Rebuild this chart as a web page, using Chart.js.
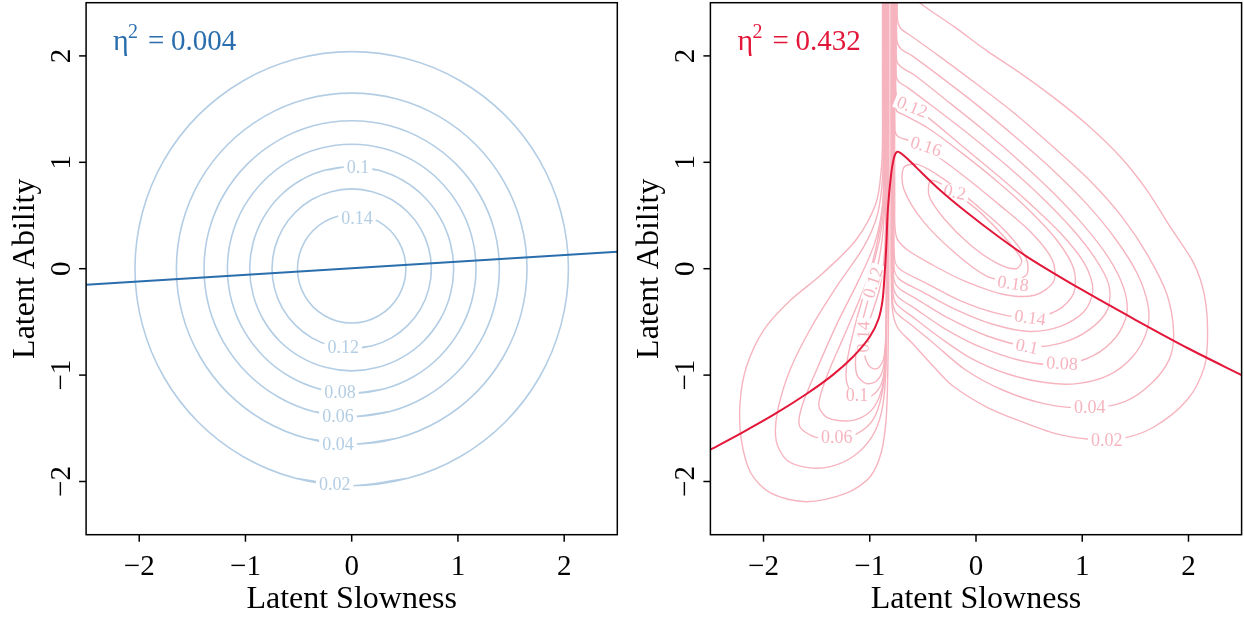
<!DOCTYPE html>
<html>
<head>
<meta charset="utf-8">
<script src="https://cdn.jsdelivr.net/npm/chart.js@4.4.0/dist/chart.umd.min.js"></script>
<style>
  html, body { margin: 0; padding: 0; background: #fff; }
  #wrap { position: relative; width: 1244px; height: 617px; }
  canvas { position: absolute; top: 0; }
</style>
</head>
<body>
<div id="wrap">
  <canvas id="leftPlot" width="622" height="617" style="left:0"></canvas>
  <canvas id="rightPlot" width="622" height="617" style="left:622px"></canvas>
</div>
<script>
  // axis ticks
  const xTicks = [-2, -1, 0, 1, 2];
  const yTicks = [-2, -1, 0, 1, 2];

  // left panel: contour rings (every 15 degrees, one step of overlap at the label)
  const ring14 = [[-0.132,0.493],[0,0.51],[0.132,0.493],[0.255,0.442],[0.361,0.361],[0.442,0.255],[0.493,0.132],[0.51,0],[0.493,-0.132],[0.442,-0.255],[0.361,-0.361],[0.255,-0.442],[0.132,-0.493],[0,-0.51],[-0.132,-0.493],[-0.255,-0.442],[-0.361,-0.361],[-0.442,-0.255],[-0.493,-0.132],[-0.51,0],[-0.493,0.132],[-0.442,0.255],[-0.361,0.361],[-0.255,0.442],[-0.132,0.493],[0,0.51],[0.132,0.493]];
  const ring12 = [[-0.194,-0.724],[0,-0.75],[0.194,-0.724],[0.375,-0.65],[0.53,-0.53],[0.65,-0.375],[0.724,-0.194],[0.75,0],[0.724,0.194],[0.65,0.375],[0.53,0.53],[0.375,0.65],[0.194,0.724],[0,0.75],[-0.194,0.724],[-0.375,0.65],[-0.53,0.53],[-0.65,0.375],[-0.724,0.194],[-0.75,0],[-0.724,-0.194],[-0.65,-0.375],[-0.53,-0.53],[-0.375,-0.65],[-0.194,-0.724],[0,-0.75],[0.194,-0.724]];
  const ring10 = [[-0.248,0.927],[0,0.96],[0.248,0.927],[0.48,0.831],[0.679,0.679],[0.831,0.48],[0.927,0.248],[0.96,0],[0.927,-0.248],[0.831,-0.48],[0.679,-0.679],[0.48,-0.831],[0.248,-0.927],[0,-0.96],[-0.248,-0.927],[-0.48,-0.831],[-0.679,-0.679],[-0.831,-0.48],[-0.927,-0.248],[-0.96,0],[-0.927,0.248],[-0.831,0.48],[-0.679,0.679],[-0.48,0.831],[-0.248,0.927],[0,0.96],[0.248,0.927]];
  const ring08 = [[-0.303,-1.13],[0,-1.17],[0.303,-1.13],[0.585,-1.013],[0.827,-0.827],[1.013,-0.585],[1.13,-0.303],[1.17,0],[1.13,0.303],[1.013,0.585],[0.827,0.827],[0.585,1.013],[0.303,1.13],[0,1.17],[-0.303,1.13],[-0.585,1.013],[-0.827,0.827],[-1.013,0.585],[-1.13,0.303],[-1.17,0],[-1.13,-0.303],[-1.013,-0.585],[-0.827,-0.827],[-0.585,-1.013],[-0.303,-1.13],[0,-1.17],[0.303,-1.13]];
  const ring06 = [[-0.36,-1.343],[0,-1.39],[0.36,-1.343],[0.695,-1.204],[0.983,-0.983],[1.204,-0.695],[1.343,-0.36],[1.39,0],[1.343,0.36],[1.204,0.695],[0.983,0.983],[0.695,1.204],[0.36,1.343],[0,1.39],[-0.36,1.343],[-0.695,1.204],[-0.983,0.983],[-1.204,0.695],[-1.343,0.36],[-1.39,0],[-1.343,-0.36],[-1.204,-0.695],[-0.983,-0.983],[-0.695,-1.204],[-0.36,-1.343],[0,-1.39],[0.36,-1.343]];
  const ring04 = [[-0.427,-1.594],[0,-1.65],[0.427,-1.594],[0.825,-1.429],[1.167,-1.167],[1.429,-0.825],[1.594,-0.427],[1.65,0],[1.594,0.427],[1.429,0.825],[1.167,1.167],[0.825,1.429],[0.427,1.594],[0,1.65],[-0.427,1.594],[-0.825,1.429],[-1.167,1.167],[-1.429,0.825],[-1.594,0.427],[-1.65,0],[-1.594,-0.427],[-1.429,-0.825],[-1.167,-1.167],[-0.825,-1.429],[-0.427,-1.594],[0,-1.65],[0.427,-1.594]];
  const ring02 = [[-0.528,-1.97],[0,-2.04],[0.528,-1.97],[1.02,-1.767],[1.443,-1.443],[1.767,-1.02],[1.97,-0.528],[2.04,0],[1.97,0.528],[1.767,1.02],[1.443,1.443],[1.02,1.767],[0.528,1.97],[0,2.04],[-0.528,1.97],[-1.02,1.767],[-1.443,1.443],[-1.767,1.02],[-1.97,0.528],[-2.04,0],[-1.97,-0.528],[-1.767,-1.02],[-1.443,-1.443],[-1.02,-1.767],[-0.528,-1.97],[0,-2.04],[0.528,-1.97]];
  const blueFit = [[-2.5,-0.15],[2.5,0.16]];
  const blueLabels = [['0.1',0.06,0.95,0],['0.14',0.05,0.47,0],['0.12',-0.08,-0.74,0],['0.08',-0.11,-1.16,0],['0.06',-0.13,-1.39,0],['0.04',-0.13,-1.65,0],['0.02',-0.16,-2.03,0]];

  // right panel: left lobe contours (tail along the ridge, then round the lower-left lobe)
  const lobeA02 = [[-0.88,2.6],[-0.88,1.6],[-0.88,1.2],[-0.89,0.95],[-0.94,0.62],[-1.13,0.27],[-1.45,-0.05],[-1.75,-0.3],[-2.0,-0.58],[-2.16,-0.92],[-2.22,-1.25],[-2.21,-1.6],[-2.12,-1.92],[-1.93,-2.11],[-1.6,-2.19],[-1.22,-2.11],[-1.0,-1.96],[-0.89,-1.72],[-0.845,-1.4],[-0.83,-0.95],[-0.822,-0.3],[-0.82,0.5],[-0.82,2.6]];
  const lobeA04 = [[-0.875,2.6],[-0.875,1.3],[-0.88,0.85],[-0.93,0.5],[-1.06,0.2],[-1.3,-0.15],[-1.55,-0.55],[-1.75,-0.95],[-1.87,-1.35],[-1.88,-1.62],[-1.78,-1.8],[-1.58,-1.87],[-1.37,-1.86],[-1.15,-1.76],[-0.98,-1.58],[-0.89,-1.35],[-0.85,-1.0],[-0.838,-0.3],[-0.825,0.5],[-0.825,2.6]];
  const lobeA06 = [[-0.87,2.6],[-0.87,1.0],[-0.88,0.6],[-0.95,0.25],[-1.1,-0.1],[-1.3,-0.5],[-1.5,-0.95],[-1.64,-1.3],[-1.66,-1.48],[-1.52,-1.58],[-1.31,-1.6],[-1.12,-1.55],[-0.97,-1.42],[-0.89,-1.2],[-0.852,-0.9],[-0.84,-0.2],[-0.83,0.5],[-0.83,2.6]];
  const lobeA08 = [[-0.865,2.6],[-0.865,0.8],[-0.88,0.45],[-0.95,0.1],[-1.08,-0.25],[-1.25,-0.65],[-1.4,-1.0],[-1.48,-1.28],[-1.4,-1.4],[-1.19,-1.43],[-1.03,-1.37],[-0.93,-1.25],[-0.87,-1.05],[-0.85,-0.7],[-0.842,0],[-0.835,2.6]];
  const lobeA10 = [[-0.86,2.6],[-0.86,1.0],[-0.88,0.55],[-0.94,0.2],[-1.03,-0.15],[-1.13,-0.5],[-1.21,-0.85],[-1.22,-1.05],[-1.16,-1.18],[-1.05,-1.21],[-0.95,-1.17],[-0.88,-1.05],[-0.85,-0.8],[-0.843,-0.3],[-0.838,2.6]];
  const lobeA12 = [[-0.855,2.6],[-0.855,0.8],[-0.875,0.35],[-0.93,0.0],[-0.99,-0.2],[-1.07,-0.5],[-1.13,-0.8],[-1.12,-1.0],[-1.03,-1.08],[-0.93,-1.05],[-0.87,-0.92],[-0.846,-0.6],[-0.84,-0.2],[-0.84,2.6]];
  const lobeA14 = [[-0.85,2.6],[-0.85,0.5],[-0.865,0.1],[-0.91,-0.2],[-0.99,-0.45],[-1.05,-0.62],[-1.05,-0.8],[-1.0,-0.92],[-0.93,-0.94],[-0.87,-0.85],[-0.848,-0.6],[-0.843,-0.2],[-0.842,2.6]];

  // right panel: right lobe contours (down the ridge, round the big lobe, back up the ridge)
  const lobeB02 = [[-0.80,2.6],[-0.80,0.5],[-0.79,-0.35],[-0.74,-0.55],[-0.6,-0.7],[-0.4,-0.92],[-0.22,-1.1],[0.1,-1.3],[0.41,-1.43],[0.75,-1.55],[1.05,-1.6],[1.35,-1.6],[1.67,-1.49],[1.99,-1.23],[2.15,-0.92],[2.18,-0.6],[2.15,-0.25],[2.05,0.05],[1.83,0.39],[1.6,0.75],[1.36,1.05],[1.05,1.35],[0.73,1.61],[0.4,1.85],[0.1,2.05],[-0.2,2.27],[-0.53,2.5],[-0.62,2.6]];
  const lobeB04 = [[-0.795,2.6],[-0.795,0.5],[-0.79,-0.25],[-0.76,-0.4],[-0.62,-0.52],[-0.4,-0.7],[-0.1,-0.95],[0.25,-1.14],[0.65,-1.27],[1.07,-1.31],[1.4,-1.25],[1.65,-1.08],[1.82,-0.85],[1.86,-0.6],[1.8,-0.25],[1.62,0.12],[1.38,0.48],[1.08,0.82],[0.72,1.15],[0.35,1.47],[0,1.74],[-0.35,2.0],[-0.6,2.18],[-0.71,2.26],[-0.74,2.35],[-0.74,2.6]];
  const lobeB06 = [[-0.79,2.6],[-0.79,0.5],[-0.785,-0.2],[-0.75,-0.33],[-0.6,-0.45],[-0.35,-0.64],[-0.05,-0.84],[0.3,-0.99],[0.65,-1.07],[0.95,-1.08],[1.25,-1.0],[1.48,-0.82],[1.61,-0.58],[1.62,-0.35],[1.52,-0.05],[1.32,0.27],[1.05,0.6],[0.72,0.93],[0.38,1.23],[0.02,1.53],[-0.33,1.8],[-0.6,2.0],[-0.71,2.07],[-0.745,2.15],[-0.745,2.6]];
  const lobeB08 = [[-0.785,2.6],[-0.785,0.5],[-0.78,-0.15],[-0.74,-0.26],[-0.58,-0.37],[-0.3,-0.56],[0.05,-0.74],[0.45,-0.87],[0.81,-0.9],[1.1,-0.82],[1.32,-0.64],[1.42,-0.42],[1.39,-0.18],[1.25,0.1],[1.02,0.4],[0.72,0.72],[0.4,1.02],[0.05,1.32],[-0.3,1.6],[-0.58,1.82],[-0.71,1.9],[-0.75,1.97],[-0.75,2.6]];
  const lobeB10 = [[-0.78,2.6],[-0.78,0.5],[-0.775,-0.08],[-0.73,-0.18],[-0.55,-0.29],[-0.25,-0.47],[0.1,-0.63],[0.48,-0.73],[0.8,-0.7],[1.07,-0.57],[1.24,-0.38],[1.25,-0.15],[1.12,0.1],[0.9,0.38],[0.62,0.67],[0.3,0.96],[-0.05,1.25],[-0.4,1.52],[-0.64,1.7],[-0.73,1.76],[-0.752,1.82],[-0.752,2.6]];
  const lobeB12 = [[-0.775,2.6],[-0.775,0.6],[-0.77,0.0],[-0.72,-0.1],[-0.5,-0.22],[-0.2,-0.38],[0.15,-0.52],[0.5,-0.59],[0.8,-0.54],[1.02,-0.4],[1.1,-0.2],[1.02,0.05],[0.8,0.33],[0.52,0.6],[0.2,0.88],[-0.15,1.17],[-0.45,1.42],[-0.66,1.57],[-0.74,1.62],[-0.755,1.68],[-0.755,2.6]];
  const lobeB14 = [[-0.77,2.6],[-0.77,0.6],[-0.765,0.08],[-0.71,-0.01],[-0.48,-0.13],[-0.15,-0.3],[0.2,-0.42],[0.51,-0.46],[0.77,-0.39],[0.92,-0.23],[0.92,0.0],[0.76,0.27],[0.5,0.55],[0.2,0.82],[-0.15,1.1],[-0.45,1.32],[-0.67,1.44],[-0.745,1.48],[-0.758,1.54],[-0.758,2.6]];
  const lobeB16 = [[-0.765,2.6],[-0.765,0.6],[-0.75,0.3],[-0.65,0.18],[-0.4,0.03],[-0.1,-0.12],[0.25,-0.24],[0.55,-0.25],[0.73,-0.12],[0.72,0.08],[0.52,0.34],[0.22,0.6],[-0.1,0.86],[-0.4,1.08],[-0.62,1.2],[-0.73,1.24],[-0.762,1.3],[-0.762,2.6]];
  const lobeB18 = [[0.35,-0.13],[0.48,-0.05],[0.47,0.1],[0.28,0.35],[0.0,0.6],[-0.3,0.84],[-0.55,0.98],[-0.68,0.95],[-0.68,0.75],[-0.5,0.45],[-0.2,0.15],[0.1,-0.07],[0.35,-0.13]];
  const lobeB20 = [[-0.2,0.72],[0.05,0.52],[0.3,0.26],[0.43,0.08],[0.38,0.0],[0.2,0.05],[-0.05,0.22],[-0.3,0.47],[-0.44,0.68],[-0.43,0.83],[-0.33,0.8],[-0.2,0.72]];
  const redFit = [[-2.5,-1.70],[-2.2,-1.54],[-1.9,-1.37],[-1.6,-1.18],[-1.35,-1.0],[-1.15,-0.82],[-1.0,-0.64],[-0.92,-0.48],[-0.88,-0.3],[-0.86,-0.05],[-0.845,0.2],[-0.83,0.55],[-0.8,0.88],[-0.77,1.05],[-0.74,1.1],[-0.7,1.08],[-0.62,1.01],[-0.56,0.95],[-0.34,0.74],[-0.1,0.54],[0.2,0.31],[0.5,0.1],[1.0,-0.2],[1.5,-0.48],[2.0,-0.75],[2.5,-1.0]];
  const redLabels = [['0.12',-0.6,1.52,22],['0.16',-0.47,1.15,18],['0.2',-0.2,0.72,12],['0.18',0.35,-0.14,8],['0.14',0.51,-0.46,8],['0.1',0.48,-0.73,12],['0.08',0.81,-0.89,3],['0.04',1.07,-1.30,0],['0.02',1.23,-1.61,0],['0.12',-0.97,-0.13,-72],['0.14',-1.06,-0.64,-88],['0.1',-1.12,-1.19,0],['0.06',-1.31,-1.58,0]];

  const SERIF = '"Liberation Serif", "DejaVu Serif", serif';

  function curve(pts, color, width, tension) {
    return {
      data: pts.map(p => ({ x: p[0], y: p[1] })),
      showLine: true,
      borderColor: color,
      borderWidth: width,
      pointRadius: 0,
      tension: tension,
      fill: false
    };
  }

  function fmt(v) {
    return v < 0 ? '\u2212' + Math.abs(v) : String(v);
  }

  // contour labels go under the fitted line (dataset 0 is drawn last)
  function labelPlugin(labels, color) {
    return {
      id: 'contourLabels',
      beforeDatasetDraw(chart, args) {
        if (args.index !== 0) return;
        const { ctx, scales: { x, y } } = chart;
        ctx.save();
        ctx.font = '18px ' + SERIF;
        labels.forEach(l => {
          const px = x.getPixelForValue(l[1]);
          const py = y.getPixelForValue(l[2]);
          const w = ctx.measureText(l[0]).width;
          ctx.save();
          ctx.translate(px, py);
          ctx.rotate(l[3] * Math.PI / 180);
          ctx.fillStyle = '#fff';
          ctx.fillRect(-w / 2 - 3, -7, w + 6, 14);
          ctx.fillStyle = color;
          ctx.textAlign = 'center';
          ctx.textBaseline = 'middle';
          ctx.fillText(l[0], 0, 1);
          ctx.restore();
        });
        ctx.restore();
      }
    };
  }

  // base-R style box, ticks, axis titles and the eta^2 note
  function framePlugin(eta, etaColor) {
    return {
      id: 'frame',
      afterDraw(chart) {
        const { ctx, chartArea: a, scales: { x, y } } = chart;
        ctx.save();
        ctx.strokeStyle = '#000';
        ctx.fillStyle = '#000';
        ctx.lineWidth = 1.5;
        ctx.strokeRect(a.left, a.top, a.right - a.left, a.bottom - a.top);

        ctx.font = '29px ' + SERIF;
        ctx.textAlign = 'center';
        ctx.textBaseline = 'alphabetic';
        xTicks.forEach(v => {
          const px = x.getPixelForValue(v);
          ctx.beginPath();
          ctx.moveTo(px, a.bottom);
          ctx.lineTo(px, a.bottom + 7);
          ctx.stroke();
          ctx.fillText(fmt(v), px, a.bottom + 40);
        });
        yTicks.forEach(v => {
          const py = y.getPixelForValue(v);
          ctx.beginPath();
          ctx.moveTo(a.left, py);
          ctx.lineTo(a.left - 7, py);
          ctx.stroke();
          ctx.save();
          ctx.translate(a.left - 16, py);
          ctx.rotate(-Math.PI / 2);
          ctx.fillText(fmt(v), 0, 0);
          ctx.restore();
        });

        ctx.font = '32px ' + SERIF;
        ctx.fillText('Latent Slowness', (a.left + a.right) / 2, a.bottom + 73);
        ctx.save();
        ctx.translate(a.left - 52, (a.top + a.bottom) / 2);
        ctx.rotate(-Math.PI / 2);
        ctx.fillText('Latent Ability', 0, 0);
        ctx.restore();

        ctx.fillStyle = etaColor;
        ctx.textAlign = 'left';
        ctx.font = '30px ' + SERIF;
        ctx.fillText('\u03b7', a.left + 27, a.top + 47);
        ctx.font = '20px ' + SERIF;
        ctx.fillText('2', a.left + 42, a.top + 35);
        ctx.font = '29px ' + SERIF;
        ctx.fillText('=', a.left + 62, a.top + 47);
        ctx.fillText(eta, a.left + 85, a.top + 47);
        ctx.restore();
      }
    };
  }

  function makeChart(id, padLeft, padRight, datasets, labels, labelColor, eta, etaColor) {
    return new Chart(document.getElementById(id), {
      type: 'scatter',
      data: { datasets: datasets },
      options: {
        responsive: false,
        animation: false,
        devicePixelRatio: 1,
        layout: { padding: { left: padLeft, right: padRight, top: 2.7, bottom: 82.3 } },
        scales: {
          x: { type: 'linear', min: -2.5, max: 2.5, display: false },
          y: { type: 'linear', min: -2.5, max: 2.5, display: false }
        },
        plugins: { legend: { display: false }, tooltip: { enabled: false } }
      },
      plugins: [labelPlugin(labels, labelColor), framePlugin(eta, etaColor)]
    });
  }

  const lightBlue = '#B3CDE4';
  const blue = '#2A6EAD';
  const pink = '#F6B4BF';
  const red = '#E3173A';

  const leftSets = [curve(blueFit, blue, 2, 0)].concat(
    [ring02, ring04, ring06, ring08, ring10, ring12, ring14].map(r => curve(r, lightBlue, 1.6, 0.34))
  );
  makeChart('leftPlot', 86.1, 4.7, leftSets, blueLabels, lightBlue, '0.004', blue);

  const rightSets = [curve(redFit, red, 2, 0.3)].concat(
    [lobeA02, lobeA04, lobeA06, lobeA08, lobeA10, lobeA12, lobeA14,
     lobeB02, lobeB04, lobeB06, lobeB08, lobeB10, lobeB12, lobeB14, lobeB16, lobeB18, lobeB20]
      .map(r => curve(r, pink, 1.4, 0.3))
  );
  makeChart('rightPlot', 88.4, 2.4, rightSets, redLabels, pink, '0.432', red);
</script>
</body>
</html>
